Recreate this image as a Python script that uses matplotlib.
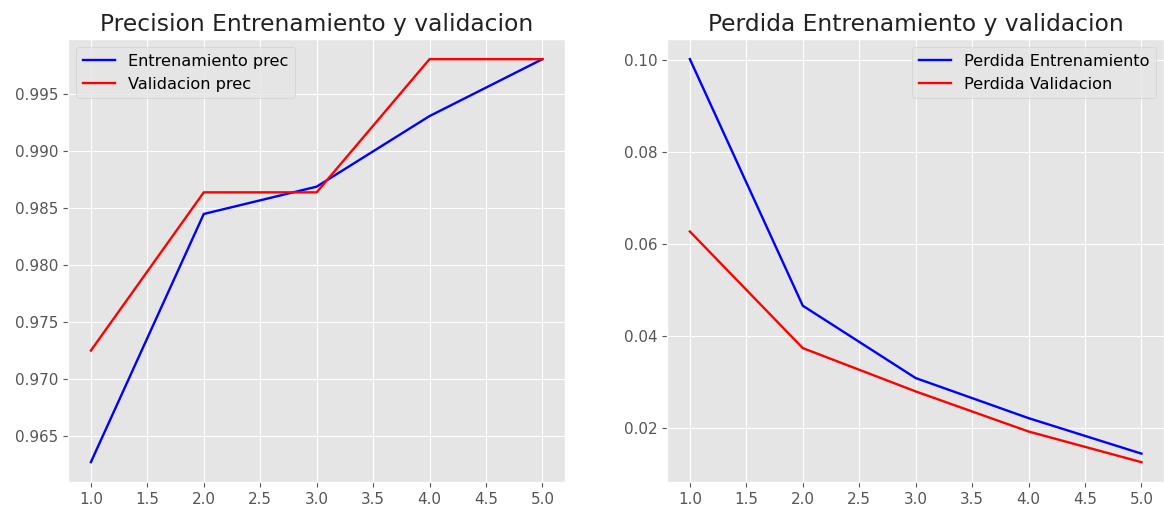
import matplotlib
matplotlib.use("Agg")
import matplotlib.pyplot as plt

epochs = [1, 2, 3, 4, 5]
train_acc = [0.9627, 0.9845, 0.9869, 0.9931, 0.9981]
val_acc = [0.9725, 0.9864, 0.9864, 0.9981, 0.9981]
train_loss = [0.1001, 0.0466, 0.0309, 0.0222, 0.0145]
val_loss = [0.0627, 0.0374, 0.0280, 0.0193, 0.01265]

plt.style.use('ggplot')
plt.rcParams['font.size'] = 10.9
plt.rcParams['font.family'] = ['DejaVu Sans']
plt.rcParams['axes.titlesize'] = 16.8
plt.rcParams['legend.fontsize'] = 11.6
plt.rcParams['lines.linewidth'] = 1.7

W, H = 1164, 511
fig = plt.figure(figsize=(W / 100, H / 100), dpi=100)
ax1 = fig.add_axes([68.3 / W, (H - 482.3) / H, 496.7 / W, 443.3 / H])
ax2 = fig.add_axes([667.3 / W, (H - 482.3) / H, 496.7 / W, 443.3 / H])

ax1.plot(epochs, train_acc, 'b', label='Entrenamiento prec')
ax1.plot(epochs, val_acc, 'r', label='Validacion prec')
ax1.set_title('Precision Entrenamiento y validacion', color='#222222')
ax1.legend(loc='upper left')

ax2.plot(epochs, train_loss, 'b', label='Perdida Entrenamiento')
ax2.plot(epochs, val_loss, 'r', label='Perdida Validacion')
ax2.set_title('Perdida Entrenamiento y validacion', color='#222222')
ax2.legend(loc='upper right')

fig.savefig('out.png', dpi=100)
